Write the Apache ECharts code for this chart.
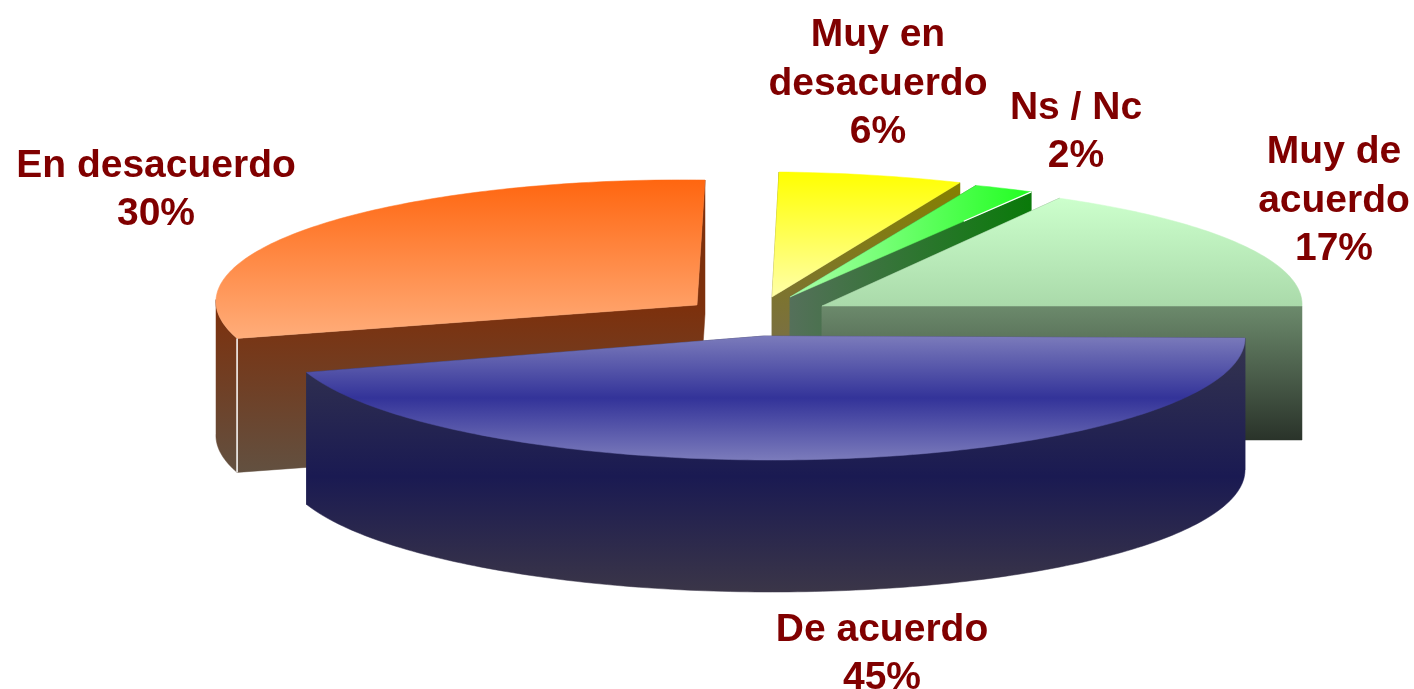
<!DOCTYPE html>
<html>
<head>
<meta charset="utf-8">
<style>html,body{margin:0;padding:0;background:#fff}#c{width:1414px;height:689px}</style>
<script src="https://cdn.jsdelivr.net/npm/echarts@6/dist/echarts.min.js"></script>
</head>
<body>
<div id="c"></div>
<script>
// Data, clockwise from the 3 o'clock position
var categories = ['De acuerdo', 'En desacuerdo', 'Muy en\ndesacuerdo', 'Ns / Nc', 'Muy de\nacuerdo'];
var values = [45, 30, 6, 2, 17];
var percentLabels = ['45%', '30%', '6%', '2%', '17%'];

// Painter's order: farthest slice first (indices into categories)
var paintOrder = [2, 3, 4, 1, 0];

// Exploded 3D geometry per slice (same order as categories)
var geometry = [
  {cx: 764, cy: 336, rx: 481, ry: 124, depth: 132, shear: 0, tilt: -2},
  {cx: 697, cy: 305, rx: 481, ry: 125, depth: 134, shear: 8, tilt: -5.5},
  {cx: 772, cy: 297, rx: 493, ry: 125, depth: 132, shear: 7, tilt: -5},
  {cx: 790, cy: 297, rx: 490, ry: 120, depth: 132, shear: 6, tilt: 0},
  {cx: 822, cy: 306, rx: 480, ry: 123, depth: 134, shear: 7, tilt: 0}
];
var labelPositions = [[882, 654], [156, 190], [878, 84], [1076, 132], [1334, 201]];

function grad(x, y, x2, y2, stops) {
  return {type: 'linear', x: x, y: y, x2: x2, y2: y2, global: true,
    colorStops: stops.map(function (s) { return {offset: s[0], color: s[1]}; })};
}
var styles = [
  {top: grad(0, 336, 0, 460, [[0, '#7b7bbb'], [0.5, '#333399'], [1, '#7b7bbb']]),
   side: grad(0, 338, 0, 590, [[0, '#35354f'], [0.55, '#1a1a52'], [1, '#3a3548']])},
  {top: grad(0, 180, 0, 338, [[0, '#ff6610'], [1, '#ffad7a']]),
   side: grad(0, 305, 0, 472, [[0, '#7d300c'], [1, '#625040']]), edge: 'start'},
  {top: grad(0, 172, 0, 297, [[0, '#ffff00'], [1, '#ffffa8']]),
   side: grad(0, 183, 0, 335, [[0, '#858000'], [1, '#7a7040']])},
  {top: grad(790, 0, 1030, 0, [[0, '#aaffaa'], [1, '#22ff22']]),
   side: grad(790, 0, 1030, 0, [[0, '#55705a'], [1, '#0a7a0a']]), edge: 'topEnd'},
  {top: grad(0, 198, 0, 306, [[0, '#ccffcc'], [1, '#aadaaa']]),
   side: grad(0, 306, 0, 440, [[0, '#6c8a6c'], [1, '#2a332a']])}
];

function sliceAngles(index) {
  var total = values.reduce(function (a, b) { return a + b; }, 0);
  var before = 0;
  for (var i = 0; i < index; i++) before += values[i];
  return [before / total * 360, (before + values[index]) / total * 360];
}
function pointAt(g, deg) {
  var t = deg * Math.PI / 180, c = Math.cos(t), s = Math.sin(t);
  return [g.cx + g.rx * c - g.shear * s, g.cy + g.ry * s - g.tilt * c];
}
function arc(g, a, b) {
  var pts = [], n = Math.max(2, Math.ceil((b - a) / 1));
  for (var i = 0; i <= n; i++) pts.push(pointAt(g, a + (b - a) * i / n));
  return pts;
}
function down(p, d) { return [p[0], p[1] + d]; }
function wall(p, q, d) { return [p, q, down(q, d), down(p, d)]; }

function renderItem(params, api) {
  var idx = api.value(0);
  var g = geometry[idx], st = styles[idx];
  var ang = sliceAngles(idx), a = ang[0], b = ang[1];
  var apex = [g.cx, g.cy];
  var startPt = pointAt(g, a), endPt = pointAt(g, b);
  var children = [];
  function poly(points, fill) {
    children.push({type: 'polygon', shape: {points: points},
      style: {fill: fill, stroke: fill, lineWidth: 0.5}});
  }
  poly(wall(apex, endPt, g.depth), st.side);
  poly(wall(apex, startPt, g.depth), st.side);
  // Outer rim: only the part of the arc facing the viewer
  var rimA = Math.max(a, 0), rimB = Math.min(b, 180);
  if (rimB > rimA) {
    var rim = arc(g, rimA, rimB);
    poly(rim.concat(rim.slice().reverse().map(function (p) { return down(p, g.depth); })), st.side);
  }
  poly([apex].concat(arc(g, a, b)), st.top);
  if (st.edge === 'start') {
    children.push({type: 'line', shape: {x1: startPt[0], y1: startPt[1], x2: startPt[0], y2: startPt[1] + g.depth},
      style: {stroke: '#ffffff', lineWidth: 1.5}});
  }
  if (st.edge === 'topEnd') {
    var f = 0.72;
    children.push({type: 'line', shape: {
      x1: apex[0] + (endPt[0] - apex[0]) * f, y1: apex[1] + (endPt[1] - apex[1]) * f,
      x2: endPt[0], y2: endPt[1]},
      style: {stroke: '#ffffff', lineWidth: 1.2}});
  }
  return {type: 'group', children: children};
}

function renderLabel(params, api) {
  var idx = api.value(0);
  var pos = labelPositions[idx];
  return {type: 'text', z2: 100, style: {
    text: categories[idx] + '\n' + percentLabels[idx],
    x: pos[0], y: pos[1], align: 'center', verticalAlign: 'middle',
    fill: '#800000', font: 'bold 39px "Liberation Sans", Arial, sans-serif', lineHeight: 48.5
  }};
}

var chart = echarts.init(document.getElementById('c'), null, {renderer: 'canvas'});
chart.setOption({
  animation: false,
  backgroundColor: '#ffffff',
  tooltip: {show: false},
  series: [
    {type: 'custom', coordinateSystem: 'none', silent: true, renderItem: renderItem,
     clip: false, encode: {}, data: paintOrder.map(function (i) { return [i, values[i]]; })},
    {type: 'custom', coordinateSystem: 'none', silent: true, renderItem: renderLabel,
     z: 5, encode: {}, data: paintOrder.map(function (i) { return [i, values[i]]; })}
  ]
});
</script>
</body>
</html>
